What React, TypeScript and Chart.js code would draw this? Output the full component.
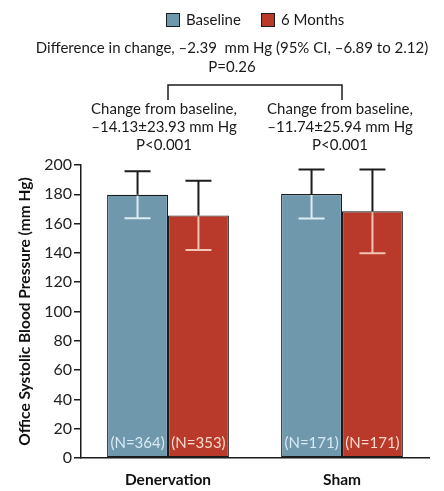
import React, { useEffect, useRef } from "react";
import { Chart, registerables } from "chart.js";

Chart.register(...registerables);

const categories = ["Denervation", "Sham"];
const seriesNames = ["Baseline", "6 Months"];
const baselineMean = [179.7, 180.2];
const baselineSD = [16.1, 16.8];
const sixMonthMean = [165.6, 168.4];
const sixMonthSD = [23.6, 28.6];
const baselineN = ["(N=364)", "(N=171)"];
const sixMonthN = ["(N=353)", "(N=171)"];
const yTicks = [0, 200, 20];
const changeText = [
  ["Change from baseline,", "–14.13±23.93 mm Hg", "P<0.001"],
  ["Change from baseline,", "–11.74±25.94 mm Hg", "P<0.001"],
];
const diffText = ["Difference in change, –2.39  mm Hg (95% CI, –6.89 to 2.12)", "P=0.26"];

const BLUE = "#6f98ad";
const RED = "#b93a2a";
const DARK = "#1c1c1c";
const FONT = "Lato, 'Open Sans', sans-serif";

export default function App() {
  const ref = useRef<HTMLCanvasElement>(null);
  useEffect(() => {
    document.body.style.margin = "0";
    const sds = [baselineSD, sixMonthSD];
    const nLabels = [baselineN, sixMonthN];
    const innerColors = ["#dcecf4", "#f6c4b4"];
    const nColors = ["#d8eaf4", "#f9dacd"];

    const overlay = {
      id: "overlay",
      afterDatasetsDraw(chart: any) {
        const ctx = chart.ctx;
        const y = chart.scales.y;
        ctx.save();
        chart.data.datasets.forEach((ds: any, di: number) => {
          const meta = chart.getDatasetMeta(di);
          meta.data.forEach((bar: any, i: number) => {
            const v = ds.data[i];
            const sd = sds[di][i];
            const x = bar.x;
            const yTop = y.getPixelForValue(v + sd);
            const yBar = y.getPixelForValue(v);
            const yLow = y.getPixelForValue(v - sd);
            const cap = 13;
            ctx.lineWidth = 2;
            ctx.strokeStyle = DARK;
            ctx.beginPath();
            ctx.moveTo(x, yBar);
            ctx.lineTo(x, yTop);
            ctx.moveTo(x - cap, yTop);
            ctx.lineTo(x + cap, yTop);
            ctx.stroke();
            ctx.strokeStyle = innerColors[di];
            ctx.beginPath();
            ctx.moveTo(x, yBar + 1);
            ctx.lineTo(x, yLow);
            ctx.moveTo(x - cap, yLow);
            ctx.lineTo(x + cap, yLow);
            ctx.stroke();
            // N labels
            ctx.fillStyle = nColors[di];
            ctx.font = `15px ${FONT}`;
            ctx.textAlign = "center";
            ctx.textBaseline = "middle";
            ctx.fillText(nLabels[di][i], x, y.getPixelForValue(0) - 15);
          });
        });
        ctx.restore();
      },
      afterDraw(chart: any) {
        const ctx = chart.ctx;
        const xs = chart.scales.x;
        const c0 = xs.getPixelForValue(0);
        const c1 = xs.getPixelForValue(1);
        ctx.save();
        ctx.fillStyle = "#1a1a1a";
        ctx.textAlign = "center";
        ctx.textBaseline = "middle";
        ctx.font = `15px ${FONT}`;
        // legend
        const legendY = 20;
        const items = [
          { x: 166, color: BLUE, label: seriesNames[0] },
          { x: 261, color: RED, label: seriesNames[1] },
        ];
        items.forEach((it) => {
          ctx.fillStyle = it.color;
          ctx.fillRect(it.x, legendY - 7, 14, 14);
          ctx.lineWidth = 1;
          ctx.strokeStyle = DARK;
          ctx.strokeRect(it.x + 0.5, legendY - 6.5, 13, 13);
          ctx.fillStyle = "#1a1a1a";
          ctx.textAlign = "left";
          ctx.fillText(it.label, it.x + 20, legendY);
        });
        ctx.textAlign = "center";
        const mid = (c0 + c1) / 2;
        ctx.fillText(diffText[0], mid - 23, 48);
        ctx.fillText(diffText[1], mid - 23, 67);
        // bracket
        ctx.strokeStyle = DARK;
        ctx.lineWidth = 1.5;
        ctx.beginPath();
        ctx.moveTo(c0, 100);
        ctx.lineTo(c0, 85);
        ctx.lineTo(c1, 85);
        ctx.lineTo(c1, 100);
        ctx.stroke();
        [c0 - 4, c1 - 2].forEach((cx, k) => {
          changeText[k].forEach((line, j) => {
            ctx.fillText(line, cx, 109 + j * 18);
          });
        });
        ctx.restore();
      },
    };

    const chart = new Chart(ref.current!, {
      type: "bar",
      data: {
        labels: categories,
        datasets: [
          {
            label: seriesNames[0],
            data: baselineMean,
            backgroundColor: BLUE,
            borderColor: DARK,
            borderWidth: 1.2,
            borderSkipped: false,
          },
          {
            label: seriesNames[1],
            data: sixMonthMean,
            backgroundColor: RED,
            borderColor: DARK,
            borderWidth: 1.2,
            borderSkipped: false,
          },
        ],
      },
      options: {
        responsive: false,
        animation: false,
        layout: { padding: { top: 165, right: 15, left: 0, bottom: 0 } },
        datasets: { bar: { categoryPercentage: 0.7, barPercentage: 1.0 } },
        plugins: { legend: { display: false }, tooltip: { enabled: false } },
        scales: {
          x: {
            grid: { display: false },
            border: { display: true, color: DARK, width: 1.5 },
            ticks: { color: "#111", font: { family: FONT, size: 15.5, weight: "bold" }, padding: 5 },
            afterFit: (s: any) => {
              s.height = 33;
            },
          },
          y: {
            min: yTicks[0],
            max: yTicks[1],
            ticks: { stepSize: yTicks[2], color: "#222", font: { family: FONT, size: 16 }, padding: 2 },
            grid: { drawOnChartArea: false, drawTicks: true, tickLength: 7, color: DARK, lineWidth: 1.5 },
            border: { display: true, color: DARK, width: 1.5 },
            title: {
              display: true,
              text: "Office Systolic Blood Pressure (mm Hg)",
              color: "#111",
              font: { family: FONT, size: 15.5, weight: "bold" },
              padding: { top: 16, bottom: 0 },
            },
            afterFit: (s: any) => {
              s.width = 81;
            },
          },
        },
      },
      plugins: [overlay],
    });
    return () => chart.destroy();
  }, []);
  return (
    <div style={{ width: 444, height: 491, background: "#fff" }}>
      <canvas ref={ref} width={444} height={491} />
    </div>
  );
}
